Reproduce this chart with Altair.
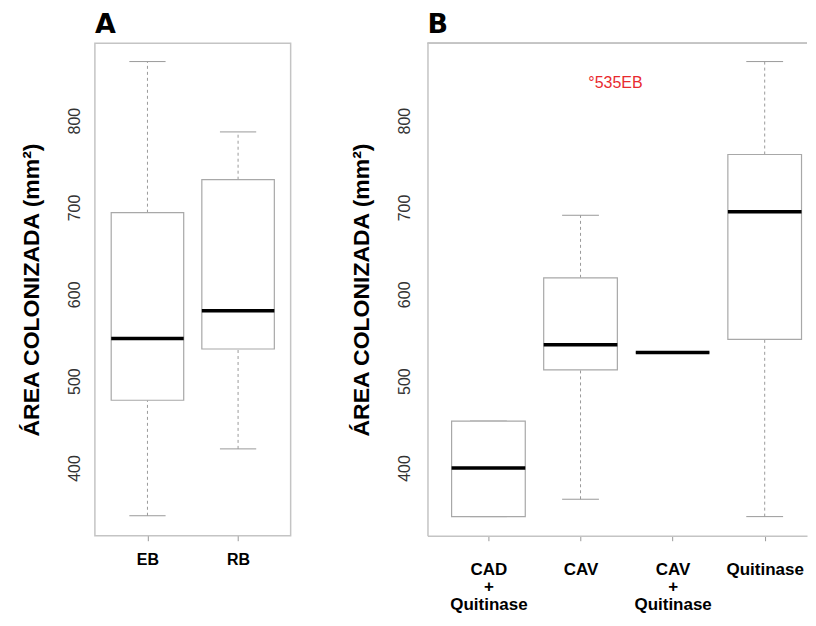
import altair as alt
import pandas as pd

# ---------------- data ----------------
a_groups = ["EB", "RB"]
a_low = [345, 422]
a_q1 = [478, 537]
a_med = [549, 581]
a_q3 = [694, 732]
a_high = [868, 787]

b_groups = [["CAD", "+", "Quitinase"], ["CAV"], ["CAV", "+", "Quitinase"], ["Quitinase"]]
b_low = [344, 364, 533, 344]
b_q1 = [344, 513, 533, 548]
b_med = [400, 542, 533, 695]
b_q3 = [454, 619, 533, 761]
b_high = [454, 691, 533, 868]

y_ticks = [400, 500, 600, 700, 800]
y_domain = [322, 889]

note_text = ["°535EB"]
note_x = [2.38]
note_y = [838]

y_title = "ÁREA COLONIZADA (mm²)"

# ---------------- styling ----------------
FRAME = "#c4c4c4"
BOX = "#a8a8a8"
WHISK = "#9a9a9a"
H = 493
NARROW = "Liberation Sans Narrow, Liberation Sans, Arial"


def make_df(groups, low, q1, med, q3, high):
    return pd.DataFrame({
        "pos": list(range(1, len(groups) + 1)),
        "low": low, "q1": q1, "med": med, "q3": q3, "high": high,
    })


def label_expr(groups):
    parts = []
    for i, g in enumerate(groups):
        if isinstance(g, list):
            arr = "[" + ",".join("'" + s + "'" for s in g) + "]"
        else:
            arr = "'" + g + "'"
        parts.append(f"datum.value == {i + 1} ? {arr} : ")
    return "".join(parts) + "''"


def panel(df, groups, x_domain, width, title, y_lab_pad, y_title_x,
          x_font_size, x_lab_pad, line_h, full_frame, note=None):
    xaxis = alt.Axis(values=list(range(1, len(groups) + 1)), labelExpr=label_expr(groups),
                     title=None, grid=False, domain=not full_frame, domainColor=FRAME,
                     domainWidth=1.5, ticks=True, tickSize=5,
                     tickColor=WHISK, tickWidth=1, labelFont="Liberation Sans",
                     labelFontWeight="bold", labelFontSize=x_font_size, labelColor="black",
                     labelAngle=0, labelAlign="center", labelBaseline="alphabetic",
                     labelPadding=x_lab_pad, labelLineHeight=line_h, labelOverlap=False,
                     labelFlush=False)
    yaxis = alt.Axis(values=y_ticks, format="d", grid=False, domain=not full_frame,
                     domainColor=FRAME, domainWidth=1.5, ticks=False,
                     labelAngle=270, labelAlign="center", labelBaseline="alphabetic",
                     labelFont=NARROW, labelFontSize=16, labelColor="#333333",
                     labelPadding=y_lab_pad, title=y_title, titleFont="Liberation Sans",
                     titleFontWeight="bold", titleFontSize=23, titleColor="black",
                     titleAngle=270, titleBaseline="alphabetic", titleAlign="center",
                     titleX=y_title_x, titleY=H / 2)
    xs = alt.Scale(domain=x_domain, nice=False, zero=False)
    ys = alt.Scale(domain=y_domain, nice=False, zero=False)

    base = alt.Chart(df).transform_calculate(
        lo="datum.pos - 0.4", hi="datum.pos + 0.4",
        clo="datum.pos - 0.2", chi="datum.pos + 0.2")

    wl = base.mark_rule(color=WHISK, strokeDash=[3, 3], strokeWidth=1).encode(
        x=alt.X("pos:Q", scale=xs, axis=xaxis),
        y=alt.Y("low:Q", scale=ys, axis=yaxis), y2="q1:Q")
    wh = base.mark_rule(color=WHISK, strokeDash=[3, 3], strokeWidth=1).encode(
        x=alt.X("pos:Q", scale=xs, axis=xaxis),
        y=alt.Y("q3:Q", scale=ys, axis=yaxis), y2="high:Q")
    cl = base.mark_rule(color=WHISK, strokeWidth=1).encode(
        x=alt.X("clo:Q", scale=xs, axis=xaxis), x2="chi:Q",
        y=alt.Y("low:Q", scale=ys, axis=yaxis))
    ch = base.mark_rule(color=WHISK, strokeWidth=1).encode(
        x=alt.X("clo:Q", scale=xs, axis=xaxis), x2="chi:Q",
        y=alt.Y("high:Q", scale=ys, axis=yaxis))
    box = base.mark_rect(fill="white", stroke=BOX, strokeWidth=1.2).encode(
        x=alt.X("lo:Q", scale=xs, axis=xaxis), x2="hi:Q",
        y=alt.Y("q1:Q", scale=ys, axis=yaxis), y2="q3:Q")
    med = base.mark_rule(color="black", strokeWidth=3.5).encode(
        x=alt.X("lo:Q", scale=xs, axis=xaxis), x2="hi:Q",
        y=alt.Y("med:Q", scale=ys, axis=yaxis))
    layers = [wl, wh, cl, ch, box, med]
    if not full_frame:
        # top edge of the plot frame (its right edge lies outside the picture)
        layers.insert(0, alt.Chart(df).mark_rule(color=FRAME, strokeWidth=1.5).encode(
            x=alt.value(0), x2=alt.value(width), y=alt.value(0)))
    if note is not None:
        ndf = pd.DataFrame({"x": note_x, "y": note_y, "t": note_text})
        layers.append(alt.Chart(ndf).mark_text(
            color="#e8292e", font="Liberation Sans", fontSize=16,
            align="center", baseline="alphabetic").encode(
            x=alt.X("x:Q", scale=xs, axis=xaxis),
            y=alt.Y("y:Q", scale=ys, axis=yaxis), text="t:N"))
    view = (alt.ViewBackground(stroke=FRAME, strokeWidth=1.5) if full_frame
            else alt.ViewBackground(strokeWidth=0, strokeOpacity=0))
    return alt.layer(*layers).properties(
        width=width, height=H, view=view,
        title=alt.TitleParams(title, anchor="start", frame="group", font="DejaVu Sans",
                              fontWeight="bold", fontSize=27, color="black",
                              baseline="bottom", offset=-23))


dfa = make_df(a_groups, a_low, a_q1, a_med, a_q3, a_high)
dfb = make_df(b_groups, b_low, b_q1, b_med, b_q3, b_high)

PX_B = 92.2
WB = 380
pa = panel(dfa, a_groups, [0.42, 2.58], 196, "A", 15.5, -56, 16, 23.5, 20, True)
pb = panel(dfb, b_groups, [0.338, 0.338 + WB / PX_B], WB, "B", 17.7, -59.4, 17, 33.5, 17.5,
           False, note=True)

chart = alt.hconcat(pa, pb, spacing=58).properties(
    padding={"left": 12, "top": 2, "right": 0, "bottom": 0}
).configure(background="white")

chart.save("out.html", embed_options={"renderer": "svg", "actions": False})
